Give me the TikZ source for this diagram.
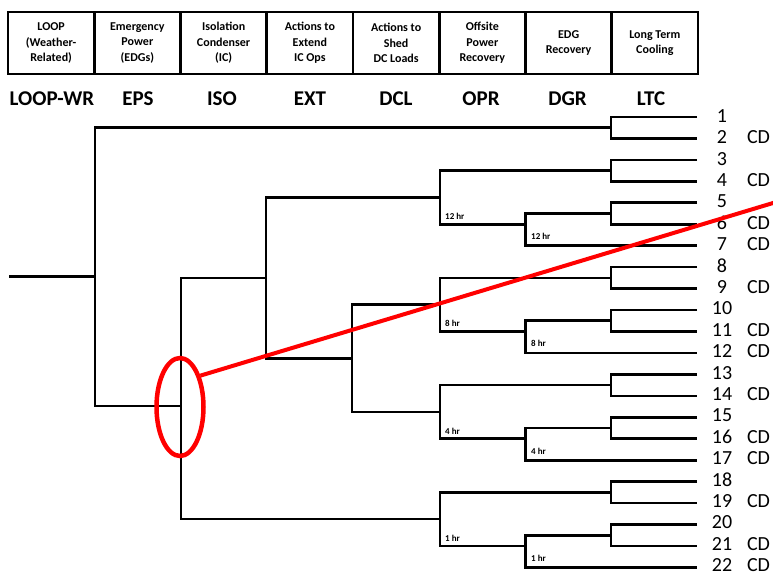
\documentclass[tikz,border=0pt]{standalone}
\usepackage{fontspec}
\setmainfont{Carlito}
\usetikzlibrary{shapes.geometric}
\begin{document}
\begin{tikzpicture}[x=1bp,y=-1bp,
  br/.style={line width=2.6bp, black},
  cell/.style={draw, line width=2.6bp, minimum width=86.25bp, minimum height=62bp, inner sep=0pt, align=center, font=\fontsize{12bp}{15.5bp}\selectfont\bfseries},
  collab/.style={inner sep=0pt, font=\fontsize{21bp}{25bp}\selectfont\bfseries},
  leafnum/.style={inner sep=0pt, font=\fontsize{20bp}{24bp}\selectfont},
  cdlab/.style={inner sep=0pt, font=\fontsize{20bp}{24bp}\selectfont},
  hrlab/.style={inner sep=0pt, anchor=base west, font=\fontsize{9bp}{10bp}\selectfont\bfseries},
  redmark/.style={draw=red, line width=4.5bp}]
\useasboundingbox (0,0) rectangle (773,574);
% header cells
\node[cell] (c1) at (51.125,43) {LOOP\\(Weather-\\Related)};
\node[cell] (c2) at (137.375,43) {Emergency\\Power\\(EDGs)};
\node[cell] (c3) at (223.625,43) {Isolation\\Condenser\\(IC)};
\node[cell] (c4) at (309.875,43) {Actions to\\Extend\\IC Ops};
\node[cell] (c5) at (396.125,43) {Actions to\\Shed\\DC Loads};
\node[cell] (c6) at (482.375,43) {Offsite\\Power\\Recovery};
\node[cell] (c7) at (568.625,43) {EDG\\Recovery};
\node[cell] (c8) at (654.875,43) {Long Term\\Cooling};
% column labels
\node[collab] (k1) at (52,99) {LOOP-WR};
\node[collab] (k2) at (138,99) {EPS};
\node[collab] (k3) at (222,99) {ISO};
\node[collab] (k4) at (310,99) {EXT};
\node[collab] (k5) at (396,99) {DCL};
\node[collab] (k6) at (481,99) {OPR};
\node[collab] (k7) at (567.5,99) {DGR};
\node[collab] (k8) at (651,99) {LTC};
% leaves
\foreach \i in {1,...,22} {
  \coordinate (L\i) at (697,{117+(\i-1)*21.45});
  \node[leafnum] (n\i) at (722,{115.8+(\i-1)*21.4}) {\i};
}
\foreach \i in {2,4,6,7,9,11,12,14,16,17,19,21,22} {
  \node[cdlab] (cd\i) at (758.5,{115.8+(\i-1)*21.4}) {CD};
}
% LTC junctions
\coordinate (T12) at (611,127.725);
\coordinate (T34) at (611,170.625);
\coordinate (T56) at (611,213.525);
\coordinate (T89) at (611,277.875);
\coordinate (T1011) at (611,320.775);
\coordinate (T1314) at (611,385.125);
\coordinate (T1516) at (611,428.025);
\coordinate (T1819) at (611,492.375);
\coordinate (T2021) at (611,535.275);
% DGR junctions
\coordinate (DA) at (525.5,224.25);
\coordinate (DB) at (525.5,331.5);
\coordinate (DC) at (525.5,438.75);
\coordinate (DD) at (525.5,546);
% OPR junctions
\coordinate (OA) at (440,197.44);
\coordinate (OB) at (440,304.69);
\coordinate (OC) at (440,411.94);
\coordinate (OD) at (440,519.19);
% earlier junctions
\coordinate (DCLj) at (352,358.31);
\coordinate (EXTj) at (266,277.875);
\coordinate (ISOj) at (181,406);
\coordinate (EPSj) at (95,276.5);
\coordinate (root) at (9,276.5);
% LTC brackets
\draw[br] (L1) -| (T12) |- (L2);
\draw[br] (L3) -| (T34) |- (L4);
\draw[br] (L5) -| (T56) |- (L6);
\draw[br] (L8) -| (T89) |- (L9);
\draw[br] (L10) -| (T1011) |- (L11);
\draw[br] (L13) -| (T1314) |- (L14);
\draw[br] (L15) -| (T1516) |- (L16);
\draw[br] (L18) -| (T1819) |- (L19);
\draw[br] (L20) -| (T2021) |- (L21);
% DGR brackets
\draw[br] (T56) -| (DA) |- (L7);
\draw[br] (T1011) -| (DB) |- (L12);
\draw[br] (T1516) -| (DC) |- (L17);
\draw[br] (T2021) -| (DD) |- (L22);
% OPR brackets
\draw[br] (T34) -| (OA) |- (DA);
\draw[br] (T89) -| (OB) |- (DB);
\draw[br] (T1314) -| (OC) |- (DC);
\draw[br] (T1819) -| (OD) |- (DD);
% DCL, EXT, ISO, EPS
\draw[br] (OB) -| (DCLj) |- (OC);
\draw[br] (OA) -| (EXTj) |- (DCLj);
\draw[br] (EXTj) -| (ISOj) |- (OD);
\draw[br] (T12) -| (EPSj) |- (ISOj);
\draw[br] (root) -- (EPSj);
% time labels
\node[hrlab] (tA1) at (445,219.5) {12 hr};
\node[hrlab] (tA2) at (531,239.5) {12 hr};
\node[hrlab] (tB1) at (445,326.5) {8 hr};
\node[hrlab] (tB2) at (531,346.5) {8 hr};
\node[hrlab] (tC1) at (445,434) {4 hr};
\node[hrlab] (tC2) at (531,454) {4 hr};
\node[hrlab] (tD1) at (445,541) {1 hr};
\node[hrlab] (tD2) at (531,561) {1 hr};
% red highlight
\node[redmark, ellipse, minimum width=47bp, minimum height=98bp, inner sep=0pt] (ring) at (180,407) {};
\coordinate (redend) at (780,200.9);
\draw[red, line width=4bp] (ring.57) -- (redend);
\end{tikzpicture}
\end{document}
